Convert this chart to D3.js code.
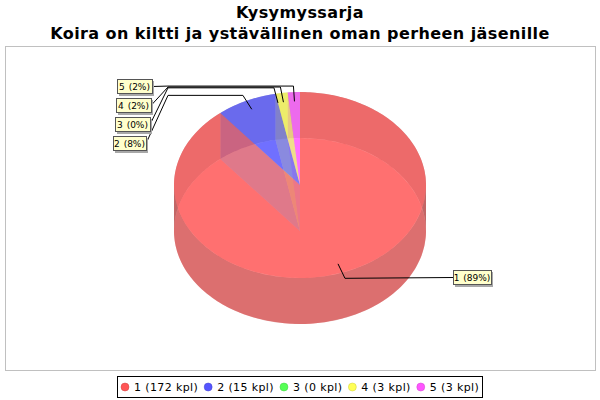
<!DOCTYPE html>
<head>
<meta charset="utf-8">
<title>Kysymyssarja</title>
<style>
html, body { margin: 0; padding: 0; background: #fff; }
text { font-family: "DejaVu Sans", sans-serif; fill: #000; }
</style>
<script src="https://cdn.jsdelivr.net/npm/d3@7"></script>
</head>
<body>
<svg id="chart" width="600" height="400"></svg>
<script>
var titleLines = ["Kysymyssarja", "Koira on kiltti ja ystävällinen oman perheen jäsenille"];
var categories = ["1", "2", "3", "4", "5"];
var counts = [172, 15, 0, 3, 3];
var percentLabels = ["89%", "8%", "0%", "2%", "2%"];
var sliceColors = ["#ff5555", "#5555ff", "#55ff55", "#ffff55", "#ff55ff"];
var wallColors = ["#b23b3b", "#3b3bb2", "#3bb23b", "#b2b23b", "#b23bb2"];

var svg = d3.select("#chart");

// plot frame
svg.append("rect").attr("x", 5.5).attr("y", 46.5).attr("width", 590).attr("height", 324)
  .attr("fill", "#fff").attr("stroke", "#c0c0c0");

// title
svg.selectAll("text.title").data(titleLines).enter().append("text")
  .attr("class", "title")
  .attr("x", 300)
  .attr("y", function(d, i) { return 18 + i * 21; })
  .attr("text-anchor", "middle")
  .style("font-size", "16px")
  .style("font-weight", "bold")
  .style("letter-spacing", "0.42px")
  .text(function(d) { return d; });

// pie geometry
var cx = 300, cyTop = 185, depth = 46, rx = 126, ry = 93;
var alpha = 0.6, frontAlpha = 0.45;
var pie = d3.pie().sort(null).startAngle(0).endAngle(2 * Math.PI);
var slices = pie(counts);
var arc = d3.arc().innerRadius(0).outerRadius(rx);

function px(a, k) { return cx + rx * k * Math.sin(a); }
function py(a, k) { return cyTop - ry * k * Math.cos(a); }

var line = d3.line();
function wallPath(a0, a1) {
  var n = Math.max(2, Math.ceil((a1 - a0) / 0.02));
  var angles = d3.range(n + 1).map(function(i) { return a0 + (a1 - a0) * i / n; });
  var pts = angles.map(function(a) { return [px(a, 1), py(a, 1)]; });
  angles.reverse().forEach(function(a) { pts.push([px(a, 1), py(a, 1) + depth]); });
  return line(pts) + "Z";
}

function face(offset) {
  return svg.append("g")
    .attr("transform", "translate(" + cx + "," + (cyTop + offset) + ") scale(1," + (ry / rx) + ")");
}

// bottom faces, each followed by its grey side
slices.forEach(function(d, i) {
  if (d.value === 0) return;
  face(depth).append("path").attr("d", arc(d))
    .attr("fill", sliceColors[i]).attr("fill-opacity", alpha);
  var a = d.startAngle;
  svg.append("path")
    .attr("d", line([[cx, cyTop + depth], [cx, cyTop], [px(a, 1), py(a, 1)], [px(a, 1), py(a, 1) + depth]]) + "Z")
    .attr("fill", "#c0c0c0").attr("fill-opacity", alpha);
});

// walls: back half first, then front half
var halfPi = Math.PI / 2;
var backRanges = [[0, halfPi], [3 * halfPi, 4 * halfPi]];
var frontRanges = [[halfPi, 3 * halfPi]];
[backRanges, frontRanges].forEach(function(ranges, pass) {
  slices.forEach(function(d, i) {
    if (d.value === 0) return;
    ranges.forEach(function(r) {
      var a0 = Math.max(d.startAngle, r[0]), a1 = Math.min(d.endAngle, r[1]);
      if (a1 <= a0) return;
      svg.append("path").attr("d", wallPath(a0, a1))
        .attr("fill", wallColors[i]).attr("fill-opacity", pass === 0 ? alpha : frontAlpha);
    });
  });
});

// top faces
slices.forEach(function(d, i) {
  if (d.value === 0) return;
  face(0).append("path").attr("d", arc(d))
    .attr("fill", sliceColors[i]).attr("fill-opacity", alpha);
});

// labels and links
var labelBoxes = [
  { x: 453, y: 270, w: 38 },
  { x: 113, y: 136, w: 33 },
  { x: 115, y: 117, w: 35 },
  { x: 116, y: 98, w: 35 },
  { x: 117, y: 79, w: 35 }
];
var boxH = 15;
slices.forEach(function(d, i) {
  var mid = (d.startAngle + d.endAngle) / 2;
  var b = labelBoxes[i];
  var right = i === 0;
  var ex = px(mid, 1.065), ey = py(mid, 1.065);
  var stemX = right ? ex : 168;
  var pts = [[px(mid, 0.9), py(mid, 0.9)], [ex, ey], [stemX, ey],
    [right ? b.x : b.x + b.w, b.y + boxH / 2]];
  svg.append("path").attr("d", line(pts)).attr("fill", "none")
    .attr("stroke", "#000").attr("stroke-width", 1);
});
slices.forEach(function(d, i) {
  var b = labelBoxes[i];
  svg.append("rect").attr("x", b.x + 2).attr("y", b.y + 2).attr("width", b.w).attr("height", boxH)
    .attr("fill", "#a8a8a8");
  svg.append("rect").attr("x", b.x + 0.5).attr("y", b.y + 0.5).attr("width", b.w).attr("height", boxH - 1)
    .attr("fill", "#ffffcc").attr("stroke", "#555");
  svg.append("text").attr("x", b.x + b.w / 2).attr("y", b.y + 11)
    .attr("text-anchor", "middle").style("font-size", "9px").style("word-spacing", "1px")
    .text(categories[i] + " (" + percentLabels[i] + ")");
});

// legend
var legendY = 387;
svg.append("rect").attr("x", 117.5).attr("y", 376.5).attr("width", 365).attr("height", 21)
  .attr("fill", "#fff").attr("stroke", "#000");
var cursor = 125;
categories.forEach(function(c, i) {
  svg.append("circle").attr("cx", cursor).attr("cy", legendY).attr("r", 4)
    .attr("fill", sliceColors[i]).attr("stroke", d3.color(sliceColors[i]).darker(0.6)).attr("stroke-width", 0.5);
  var t = svg.append("text").attr("x", cursor + 9).attr("y", legendY + 4)
    .style("font-size", "11px").style("letter-spacing", "0.38px")
    .text(c + " (" + counts[i] + " kpl)");
  cursor += 9 + t.node().getComputedTextLength() + 10;
});
</script>
</body>
